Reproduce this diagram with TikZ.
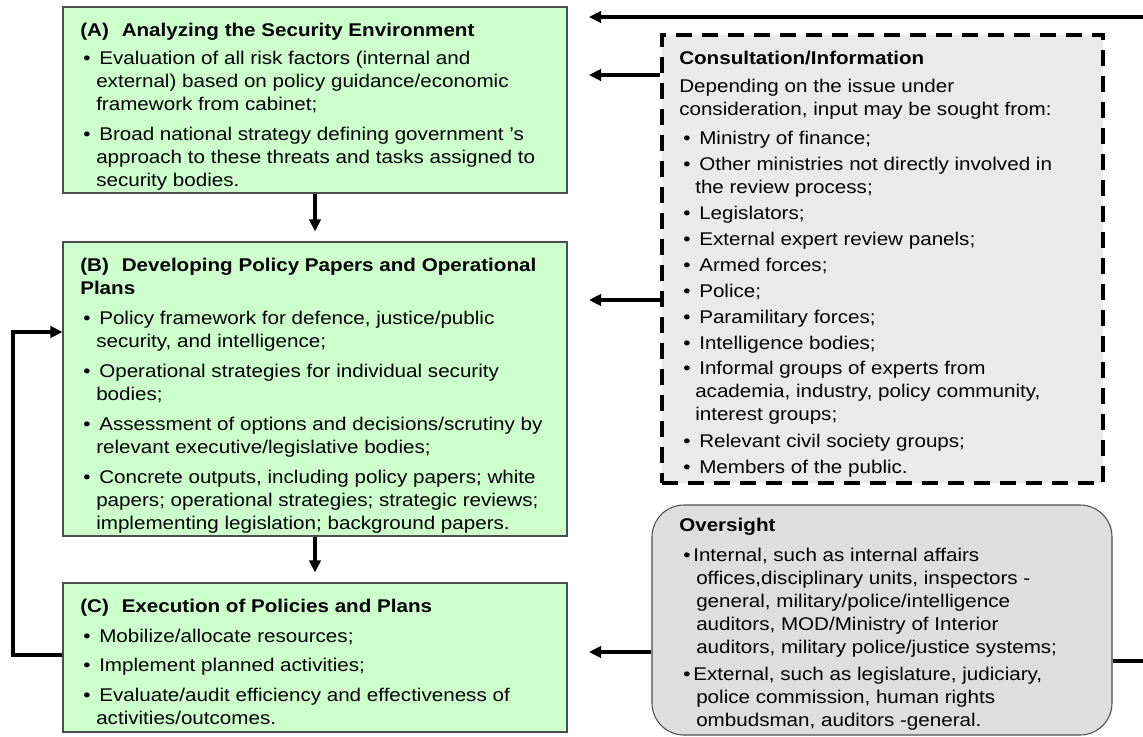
\documentclass[tikz,border=0pt]{standalone}
\usepackage{fontspec}
\setmainfont{Liberation Sans}[FakeStretch=1.12]
\usetikzlibrary{arrows.meta}
\definecolor{boxgreen}{HTML}{CCFFCC}
\definecolor{boxline}{HTML}{4D4D4D}
\definecolor{consfill}{HTML}{EAEAEA}
\definecolor{overfill}{HTML}{DEDEDE}
\newcommand{\txtfont}{\fontsize{13.8pt}{17.25pt}\selectfont}
\newcommand{\plines}[1]{\begin{tabular}[t]{@{}l@{}}#1\end{tabular}}
\tikzset{
  gbox/.style={draw=boxline, fill=boxgreen, line width=0.8pt, minimum width=378pt, inner sep=0pt},
  consbox/.style={draw=black, fill=consfill, line width=3pt, dash pattern=on 12pt off 7.5pt,
    minimum width=330.75pt, minimum height=336pt, inner sep=0pt},
  overbox/.style={draw=boxline, fill=overfill, line width=0.8pt, rounded corners=24pt,
    minimum width=345pt, minimum height=172.5pt, inner sep=0pt},
  txt/.style={anchor=base west, inner sep=0pt, font=\txtfont},
  ttl/.style={anchor=base west, inner sep=0pt, font=\txtfont\bfseries},
  bul/.style={anchor=base west, inner sep=0pt, font=\txtfont},
  arr/.style={line width=3pt, -{Triangle[length=9pt,width=8.5pt]}},
  link/.style={line width=3pt},
}
\begin{document}
\begin{tikzpicture}[x=0.75pt,y=-0.75pt]
\useasboundingbox (0,0) rectangle (1143,736);
\fill[white] (0,0) rectangle (1143,736);

% ---------- (A) ----------
\node[gbox, minimum height=139.5pt] (A) at (315,100) {};
\node[ttl] (At) at (80,36) {(A)\hspace{0.7em}Analyzing the Security Environment};
\node[bul] (Ab1) at (83,64) {\textbullet};
\node[txt] (Ap1) at (96,64) {\plines{\hspace{2.25pt}Evaluation of all risk factors (internal and\\
  external) based on policy guidance/economic\\
  framework from cabinet;}};
\node[bul] (Ab2) at (83,140) {\textbullet};
\node[txt] (Ap2) at (96,140) {\plines{\hspace{2.25pt}Broad national strategy defining government ’s\\
  approach to these threats and tasks assigned to\\
  security bodies.}};

% ---------- (B) ----------
\node[gbox, minimum height=220.5pt] (B) at (315,389) {};
\node[ttl] (Bt) at (80,271) {\plines{(B)\hspace{0.7em}Developing Policy Papers and Operational\\ Plans}};
\node[bul] (Bb1) at (83,324) {\textbullet};
\node[txt] (Bp1) at (96,324) {\plines{\hspace{2.25pt}Policy framework for defence, justice/public\\
  security, and intelligence;}};
\node[bul] (Bb2) at (83,377) {\textbullet};
\node[txt] (Bp2) at (96,377) {\plines{\hspace{2.25pt}Operational strategies for individual security\\
  bodies;}};
\node[bul] (Bb3) at (83,430) {\textbullet};
\node[txt] (Bp3) at (96,430) {\plines{\hspace{2.25pt}Assessment of options and decisions/scrutiny by\\
  relevant executive/legislative bodies;}};
\node[bul] (Bb4) at (83,483) {\textbullet};
\node[txt] (Bp4) at (96,483) {\plines{\hspace{2.25pt}Concrete outputs, including policy papers; white\\
  papers; operational strategies; strategic reviews;\\
  implementing legislation; background papers.}};

% ---------- (C) ----------
\node[gbox, minimum height=111.75pt] (C) at (315,657.5) {};
\node[ttl] (Ct) at (80,612) {(C)\hspace{0.7em}Execution of Policies and Plans};
\node[bul] (Cb1) at (83,642) {\textbullet};
\node[txt] (Cp1) at (96,642) {\plines{\hspace{2.25pt}Mobilize/allocate resources;}};
\node[bul] (Cb2) at (83,671) {\textbullet};
\node[txt] (Cp2) at (96,671) {\plines{\hspace{2.25pt}Implement planned activities;}};
\node[bul] (Cb3) at (83,701) {\textbullet};
\node[txt] (Cp3) at (96,701) {\plines{\hspace{2.25pt}Evaluate/audit efficiency and effectiveness of\\
  activities/outcomes.}};

% ---------- Consultation/Information ----------
\node[consbox] (cons) at (882.5,258.5) {};
\node[ttl] (Kt) at (679,64) {Consultation/Information};
\node[txt] (Kp0) at (679,92) {\plines{Depending on the issue under\\
  consideration, input may be sought from:}};
\node[bul] (Kb1) at (683,144) {\textbullet};
\node[txt] (Kp1) at (695,144) {\plines{\hspace{3pt}Ministry of finance;}};
\node[bul] (Kb2) at (683,170) {\textbullet};
\node[txt] (Kp2) at (695,170) {\plines{\hspace{3pt}Other ministries not directly involved in\\
  the review process;}};
\node[bul] (Kb3) at (683,219) {\textbullet};
\node[txt] (Kp3) at (695,219) {\plines{\hspace{3pt}Legislators;}};
\node[bul] (Kb4) at (683,245) {\textbullet};
\node[txt] (Kp4) at (695,245) {\plines{\hspace{3pt}External expert review panels;}};
\node[bul] (Kb5) at (683,271) {\textbullet};
\node[txt] (Kp5) at (695,271) {\plines{\hspace{3pt}Armed forces;}};
\node[bul] (Kb6) at (683,297) {\textbullet};
\node[txt] (Kp6) at (695,297) {\plines{\hspace{3pt}Police;}};
\node[bul] (Kb7) at (683,323) {\textbullet};
\node[txt] (Kp7) at (695,323) {\plines{\hspace{3pt}Paramilitary forces;}};
\node[bul] (Kb8) at (683,349) {\textbullet};
\node[txt] (Kp8) at (695,349) {\plines{\hspace{3pt}Intelligence bodies;}};
\node[bul] (Kb9) at (683,374) {\textbullet};
\node[txt] (Kp9) at (695,374) {\plines{\hspace{3pt}Informal groups of experts from\\
  academia, industry, policy community,\\
  interest groups;}};
\node[bul] (Kb10) at (683,447) {\textbullet};
\node[txt] (Kp10) at (695,447) {\plines{\hspace{3pt}Relevant civil society groups;}};
\node[bul] (Kb11) at (683,473) {\textbullet};
\node[txt] (Kp11) at (695,473) {\plines{\hspace{3pt}Members of the public.}};

% ---------- Oversight ----------
\node[overbox] (over) at (882,620) {};
\node[ttl] (Ot) at (679,531) {Oversight};
\node[bul] (Ob1) at (683,561) {\textbullet};
\node[txt] (Op1) at (696,561) {\plines{\hspace{-2.25pt}Internal, such as internal affairs\\
  offices,disciplinary units, inspectors -\\
  general, military/police/intelligence\\
  auditors, MOD/Ministry of Interior\\
  auditors, military police/justice systems;}};
\node[bul] (Ob2) at (683,680) {\textbullet};
\node[txt] (Op2) at (696,680) {\plines{\hspace{-2.25pt}External, such as legislature, judiciary,\\
  police commission, human rights\\
  ombudsman, auditors -general.}};

% ---------- connectors ----------
\draw[arr, shorten >=7.5pt] (A.south) -- (B.north);
\draw[arr, shorten >=7.5pt] (B.south) -- (C.north);

\coordinate (loopBot) at (13,655);
\coordinate (loopTop) at (13,332);
\draw[arr] (C.west |- loopBot) -- (loopBot) -- (loopTop) -- (B.west |- loopTop);

\coordinate (topIn) at (1143,17);
\coordinate (topTip) at (589,17);
\draw[arr] (topIn) -- (topTip);

\coordinate (consTip1) at (589,75);
\coordinate (consTip2) at (589,300);
\draw[arr] (cons.west |- consTip1) -- (consTip1);
\draw[arr] (cons.west |- consTip2) -- (consTip2);

\coordinate (overTip) at (589,652);
\coordinate (overOut) at (1143,661);
\draw[arr] (over.west |- overTip) -- (overTip);
\draw[link] (over.east |- overOut) -- (overOut);
\end{tikzpicture}
\end{document}
